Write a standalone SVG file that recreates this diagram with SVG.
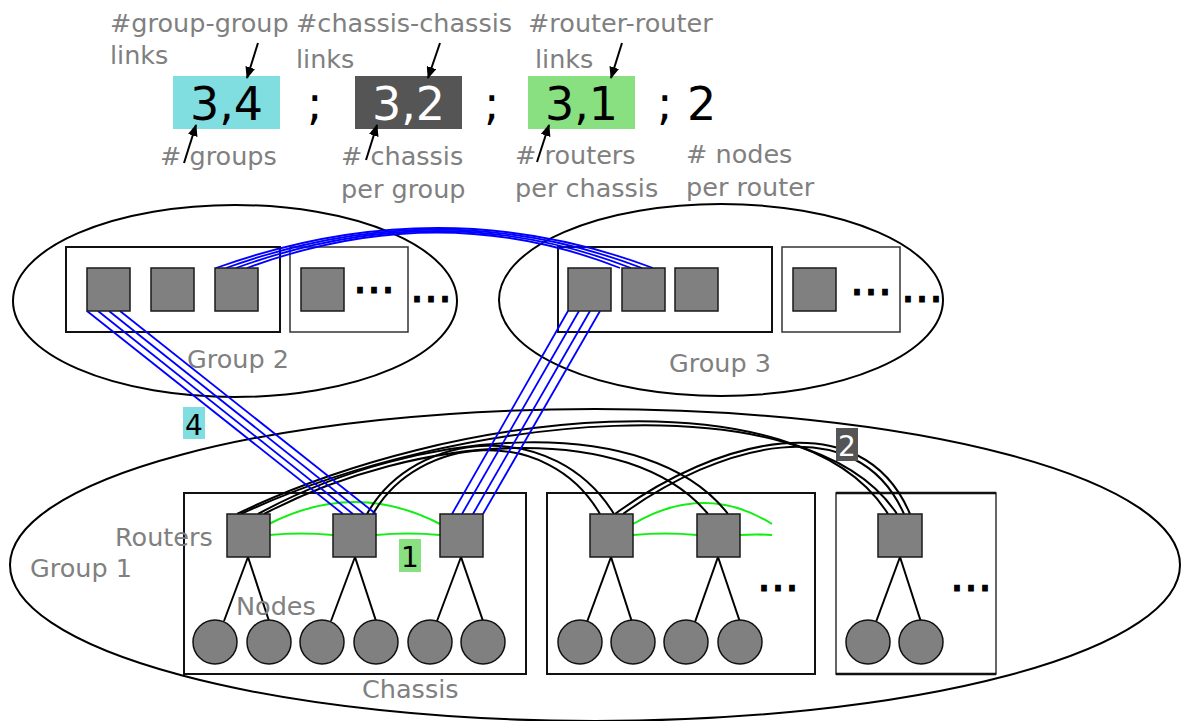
<svg xmlns="http://www.w3.org/2000/svg" width="1181" height="721" viewBox="0 0 1181 721">
  <defs>
    <marker id="tip" viewBox="0 0 12 10" refX="11" refY="5" markerWidth="12" markerHeight="10" markerUnits="userSpaceOnUse" orient="auto">
      <path d="M0,0 L12,5 L0,10 Z" fill="#000"/>
    </marker>
  </defs>
  <style>
    .lbl { font-family: "DejaVu Sans", "Liberation Sans", sans-serif; font-size: 25.5px; fill: #808080; }
    .big { font-family: "DejaVu Sans", "Liberation Sans", sans-serif; font-size: 46px; }
    .tag { font-family: "DejaVu Sans", "Liberation Sans", sans-serif; font-size: 28px; text-anchor: middle; }
    .dots { font-family: "DejaVu Sans", "Liberation Sans", sans-serif; font-size: 44px; fill: #000; stroke: #000; stroke-width: 1.2; }
    .grp { fill: none; stroke: #000; stroke-width: 2; }
    .box { fill: #fff; stroke: #111; stroke-width: 2; }
    .box2 { fill: #fff; stroke: #333; stroke-width: 1.5; }
    .rtr { fill: #808080; stroke: #1a1a1a; stroke-width: 1.5; }
    .nd { fill: #808080; stroke: #111; stroke-width: 1.5; }
    .ptr { stroke: #000; stroke-width: 2; fill: none; marker-end: url(#tip); }
    .gg { fill: none; stroke: #0000ff; stroke-width: 1.8; }
    .cc { fill: none; stroke: #000; stroke-width: 2; }
    .rr { fill: none; stroke: #11ee11; stroke-width: 2; }
    .nl { stroke: #000; stroke-width: 2; }
  </style>

  <!-- notation header -->
  <g id="legend">
    <text class="lbl" x="110" y="32">#group-group</text>
    <text class="lbl" x="110" y="64">links</text>
    <text class="lbl" x="296" y="32">#chassis-chassis</text>
    <text class="lbl" x="296" y="68">links</text>
    <text class="lbl" x="528" y="32">#router-router</text>
    <text class="lbl" x="535" y="68">links</text>

    <rect x="173" y="76" width="107" height="53" fill="#80dde0"/>
    <text class="big" x="226.5" y="120" text-anchor="middle" fill="#000">3,4</text>
    <text class="big" x="307" y="120" fill="#000">;</text>
    <rect x="355" y="76" width="107" height="53" fill="#555555"/>
    <text class="big" x="408.5" y="120" text-anchor="middle" fill="#fff">3,2</text>
    <text class="big" x="484" y="120" fill="#000">;</text>
    <rect x="528" y="76" width="107" height="53" fill="#88e080"/>
    <text class="big" x="581.5" y="120" text-anchor="middle" fill="#000">3,1</text>
    <text class="big" x="657" y="120" fill="#000">; 2</text>

    <text class="lbl" x="160" y="165"># groups</text>
    <text class="lbl" x="341" y="165"># chassis</text>
    <text class="lbl" x="341" y="198">per group</text>
    <text class="lbl" x="515" y="164"># routers</text>
    <text class="lbl" x="515" y="197">per chassis</text>
    <text class="lbl" x="686" y="163"># nodes</text>
    <text class="lbl" x="686" y="196">per router</text>

    <line class="ptr" x1="258" y1="43" x2="247" y2="78"/>
    <line class="ptr" x1="440" y1="43" x2="428" y2="78"/>
    <line class="ptr" x1="622" y1="43" x2="611" y2="78"/>
    <line class="ptr" x1="184" y1="163" x2="196" y2="125"/>
    <line class="ptr" x1="366" y1="160" x2="377" y2="125"/>
    <line class="ptr" x1="537" y1="162" x2="549" y2="125"/>
  </g>

  <!-- Group 2 -->
  <g id="group2">
    <ellipse class="grp" cx="235" cy="301" rx="222" ry="96"/>
    <rect class="box" x="66" y="247" width="214" height="85"/>
    <rect class="box2" x="290" y="247" width="118" height="85"/>
    <text class="lbl" x="187" y="368">Group 2</text>
  </g>

  <!-- Group 3 -->
  <g id="group3">
    <ellipse class="grp" cx="721" cy="300" rx="222" ry="96"/>
    <rect class="box" x="558" y="247" width="214" height="85"/>
    <rect class="box2" x="782" y="247" width="118" height="85"/>
    <text class="lbl" x="669" y="372">Group 3</text>
  </g>

  <!-- Group 1 -->
  <g id="group1">
    <ellipse class="grp" cx="595" cy="565" rx="585" ry="156"/>
    <rect class="box" x="184" y="493" width="342" height="181"/>
    <rect class="box" x="547" y="493" width="268" height="181"/>
    <rect class="box2" x="836" y="493" width="160" height="181"/>
    <line x1="836" y1="493" x2="996" y2="493" stroke="#111" stroke-width="2.5"/>
    <line x1="836" y1="674" x2="996" y2="674" stroke="#111" stroke-width="2.5"/>
    <text class="lbl" x="30" y="577">Group 1</text>
    <text class="lbl" x="115" y="546">Routers</text>
    <text class="lbl" x="362" y="698">Chassis</text>
  </g>

  <!-- links -->
  <g id="connectors">
    <!-- router to compute node -->
    <line class="nl" x1="248" y1="557" x2="224" y2="621"/>
    <line class="nl" x1="248" y1="557" x2="269" y2="621"/>
    <line class="nl" x1="355" y1="557" x2="331" y2="621"/>
    <line class="nl" x1="355" y1="557" x2="376" y2="621"/>
    <line class="nl" x1="461" y1="557" x2="437" y2="621"/>
    <line class="nl" x1="461" y1="557" x2="483" y2="621"/>
    <line class="nl" x1="611" y1="557" x2="587" y2="622"/>
    <line class="nl" x1="611" y1="557" x2="632" y2="622"/>
    <line class="nl" x1="718" y1="557" x2="695" y2="622"/>
    <line class="nl" x1="718" y1="557" x2="740" y2="622"/>
    <line class="nl" x1="900" y1="557" x2="876" y2="622"/>
    <line class="nl" x1="900" y1="557" x2="921" y2="622"/>

    <!-- router-router (same chassis) -->
    <path class="rr" d="M269,535 Q301,532 333,535"/>
    <path class="rr" d="M376,535 Q408,532 440,535"/>
    <path class="rr" d="M269,524 Q355,480 440,524"/>
    <path class="rr" d="M633,535 Q665,532 697,535"/>
    <path class="rr" d="M740,535 Q756,534 772,535"/>
    <path class="rr" d="M633,524 Q705,482 772,524"/>

    <!-- chassis-chassis -->
    <path class="cc" d="M237,514 C450,410 800,372 888,514"/>
    <path class="cc" d="M241,514 C452,415 808,378 897,514"/>
    <path class="cc" d="M258,514 C420,425 650,412 728,514"/>
    <path class="cc" d="M264,514 C420,432 630,420 708,514"/>
    <path class="cc" d="M367,514 C415,428 555,418 614,514"/>
    <path class="cc" d="M373,514 C418,434 548,424 600,514"/>
    <path class="cc" d="M615,514 C715,440 862,400 910,514"/>
    <path class="cc" d="M623,514 C718,445 856,406 904,514"/>

    <!-- group-group -->
    <path class="gg" d="M216,268 Q440,188 653,268"/>
    <path class="gg" d="M226,268 Q440,191 642,268"/>
    <path class="gg" d="M236,268 Q440,194 631,268"/>
    <path class="gg" d="M247,268 Q440,197 620,268"/>
    <line class="gg" x1="87" y1="311" x2="343" y2="514"/>
    <line class="gg" x1="98" y1="311" x2="353" y2="514"/>
    <line class="gg" x1="109" y1="311" x2="364" y2="514"/>
    <line class="gg" x1="120" y1="311" x2="376" y2="514"/>
    <line class="gg" x1="568" y1="311" x2="452" y2="514"/>
    <line class="gg" x1="579" y1="311" x2="462" y2="514"/>
    <line class="gg" x1="590" y1="311" x2="473" y2="514"/>
    <line class="gg" x1="600" y1="311" x2="483" y2="514"/>
  </g>

  <!-- link count tags -->
  <g id="tag-gg">
    <rect x="183" y="407" width="22" height="32" fill="#80dde0"/>
    <text class="tag" x="194" y="435" fill="#000">4</text>
  </g>
  <g id="tag-rr">
    <rect x="399" y="539" width="22" height="33" fill="#88e080"/>
    <text class="tag" x="410" y="567" fill="#000">1</text>
  </g>
  <g id="tag-cc">
    <rect x="836" y="428" width="22" height="33" fill="#555555"/>
    <text class="tag" x="847" y="456" fill="#fff">2</text>
  </g>

  <!-- routers -->
  <g id="g2-routers">
    <rect class="rtr" x="87" y="268" width="43" height="43"/>
    <rect class="rtr" x="151" y="268" width="43" height="43"/>
    <rect class="rtr" x="215" y="268" width="43" height="43"/>
    <rect class="rtr" x="301" y="268" width="43" height="43"/>
    <text class="dots" x="353" y="293">...</text>
    <text class="dots" x="410" y="302">...</text>
  </g>
  <g id="g3-routers">
    <rect class="rtr" x="568" y="268" width="43" height="43"/>
    <rect class="rtr" x="622" y="268" width="43" height="43"/>
    <rect class="rtr" x="675" y="268" width="43" height="43"/>
    <rect class="rtr" x="793" y="268" width="43" height="43"/>
    <text class="dots" x="850" y="295">...</text>
    <text class="dots" x="901" y="302">...</text>
  </g>
  <g id="g1-chassis1">
    <rect class="rtr" x="227" y="514" width="43" height="43"/>
    <rect class="rtr" x="333" y="514" width="43" height="43"/>
    <rect class="rtr" x="440" y="514" width="43" height="43"/>
    <circle class="nd" cx="215" cy="642" r="22"/>
    <circle class="nd" cx="269" cy="642" r="22"/>
    <circle class="nd" cx="322" cy="642" r="22"/>
    <circle class="nd" cx="376" cy="642" r="22"/>
    <circle class="nd" cx="430" cy="642" r="22"/>
    <circle class="nd" cx="483" cy="642" r="22"/>
  </g>
  <g id="g1-chassis2">
    <rect class="rtr" x="590" y="514" width="43" height="43"/>
    <rect class="rtr" x="697" y="514" width="43" height="43"/>
    <circle class="nd" cx="580" cy="642" r="22"/>
    <circle class="nd" cx="633" cy="642" r="22"/>
    <circle class="nd" cx="686" cy="642" r="22"/>
    <circle class="nd" cx="740" cy="642" r="22"/>
    <text class="dots" x="757" y="591">...</text>
  </g>
  <g id="g1-chassis3">
    <rect class="rtr" x="878" y="514" width="44" height="43"/>
    <circle class="nd" cx="868" cy="642" r="22"/>
    <circle class="nd" cx="921" cy="642" r="22"/>
    <text class="dots" x="950" y="591">...</text>
  </g>
  <text class="lbl" x="236" y="615">Nodes</text>
</svg>
